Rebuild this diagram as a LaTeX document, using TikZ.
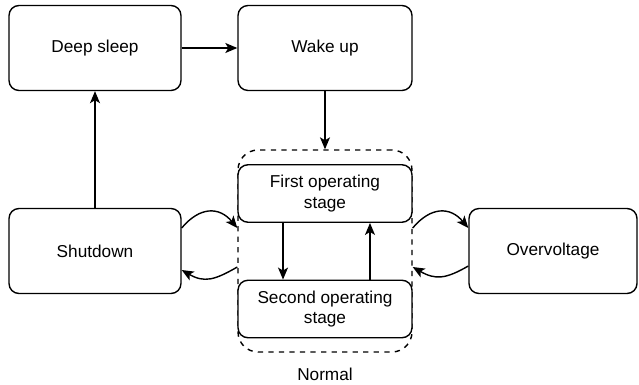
\documentclass[tikz,border=0pt]{standalone}
\usepackage{fontspec}
\setmainfont{Liberation Sans}
\usetikzlibrary{arrows.meta, positioning, calc}
\begin{document}
\begin{tikzpicture}[
    x=0.02cm, y=-0.02cm,
    state/.style={draw, fill=white, rounded corners=0.2cm, line width=0.8pt, minimum width=#1,
                minimum height=1.7cm, inner sep=0pt, align=center,
                font=\fontsize{9.8}{11.5}\selectfont},
    stage/.style={state=3.48cm, minimum height=1.15cm},
    group/.style={draw, dashed, rounded corners=0.4cm, line width=0.8pt,
                minimum width=3.48cm, minimum height=4.04cm},
    arr/.style={-{Stealth[length=2.4mm, width=2mm, inset=0.6mm]}, line width=0.8pt}
]
\fill[white] (0,0) rectangle (639,385);
\useasboundingbox (0,0) rectangle (639,385);

% Top row
\node[state=3.44cm] (deep) at (95, 48) {Deep sleep};
\node[state=3.48cm] (wake) at (325, 48) {Wake up};

% Middle row
\node[state=3.44cm] (shut) at (95, 251) {Shutdown};
\node[group] (normal) at (325, 251) {};
\node[state=3.36cm] (over) at (553, 251) {Overvoltage};

% Inside Normal
\node[stage] (first) at (325, 193.5) {First operating\\stage};
\node[stage] (second) at (325, 309) {Second operating\\stage};
\node[font=\fontsize{9.8}{11.5}\selectfont] (normlbl) at (325, 374) {Normal};

% Transitions
\draw[arr] (deep) -- (wake);
\draw[arr] (wake) -- (normal);
\draw[arr] (shut) -- (deep);
\draw[arr] ([xshift=-0.84cm]first.south) -- ([xshift=-0.84cm]second.north);
\draw[arr] ([xshift=0.9cm]second.north) -- ([xshift=0.9cm]first.south);

\draw[arr] ([yshift=0.46cm]shut.east) to[out=50, in=130, looseness=1.3] ([yshift=0.46cm]normal.west);
\draw[arr] ([yshift=-0.32cm]normal.west) to[out=210, in=-30, looseness=1.2] ([yshift=-0.38cm]shut.east);
\draw[arr] ([yshift=0.46cm]normal.east) to[out=50, in=130, looseness=1.3] ([yshift=0.46cm]over.west);
\draw[arr] ([yshift=-0.3cm]over.west) to[out=210, in=-30, looseness=1.2] ([yshift=-0.32cm]normal.east);
\end{tikzpicture}
\end{document}
